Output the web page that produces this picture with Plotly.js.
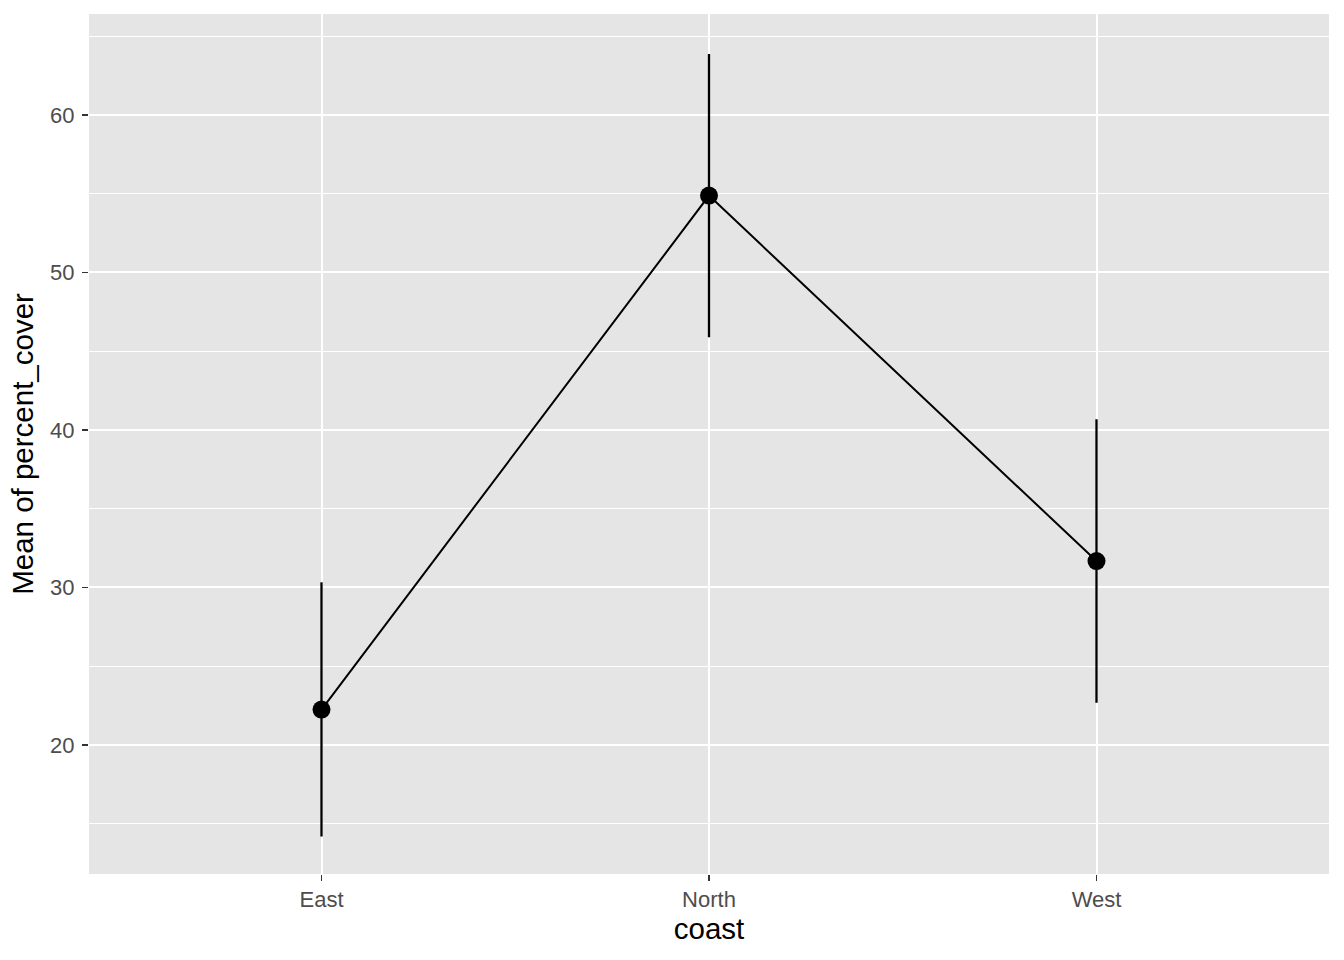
<!DOCTYPE html>
<html>
<head>
<meta charset="utf-8">
<script src="https://cdn.plot.ly/plotly-3.0.1.min.js"></script>
<style>html,body{margin:0;padding:0;background:#fff;}#chart{width:1344px;height:960px;}</style>
</head>
<body>
<div id="chart"></div>
<script>
const coast = ["East", "North", "West"];
const meanCover = [22.25, 54.88, 31.68];
const errUpper = [8.08, 8.99, 9.0];
const errLower = [8.06, 8.99, 8.99];

const traces = [
  {
    x: coast, y: meanCover, type: 'scatter', mode: 'lines',
    line: {color: '#000', width: 2}, hoverinfo: 'skip', showlegend: false
  },
  {
    x: coast, y: meanCover, type: 'scatter', mode: 'markers',
    marker: {color: '#000', size: 18},
    error_y: {type: 'data', symmetric: false, array: errUpper, arrayminus: errLower,
      color: '#000', thickness: 2.3, width: 0},
    showlegend: false
  }
];

const layout = {
  width: 1344, height: 960,
  margin: {l: 89, r: 15, t: 14, b: 86},
  paper_bgcolor: '#ffffff', plot_bgcolor: '#e5e5e5',
  font: {family: 'Liberation Sans, Arial, sans-serif'},
  showlegend: false,
  xaxis: {
    type: 'category', range: [-0.6, 2.6],
    showgrid: true, gridcolor: '#ffffff', gridwidth: 2,
    zeroline: false, showline: false,
    ticks: 'outside', ticklen: 6, tickwidth: 1.5, tickcolor: '#333333',
    tickfont: {size: 22, color: '#4d4d4d'},
    title: {text: 'coast', font: {size: 29.5, color: '#000'}, standoff: 4}
  },
  yaxis: {
    range: [11.81, 66.41],
    tickvals: [20, 30, 40, 50, 60],
    showgrid: true, gridcolor: '#ffffff', gridwidth: 2,
    zeroline: false, showline: false,
    ticks: 'outside', ticklen: 6, tickwidth: 1.5, tickcolor: '#333333',
    tickfont: {size: 22, color: '#4d4d4d'},
    ticklabelstandoff: 3,
    minor: {tickvals: [15, 25, 35, 45, 55, 65], showgrid: true, gridcolor: '#ffffff', gridwidth: 1, ticks: ''},
    title: {text: 'Mean of percent_cover', font: {size: 29.5, color: '#000'}, standoff: 7}
  }
};

Plotly.newPlot('chart', traces, layout, {displayModeBar: false, staticPlot: true});
</script>
</body>
</html>
